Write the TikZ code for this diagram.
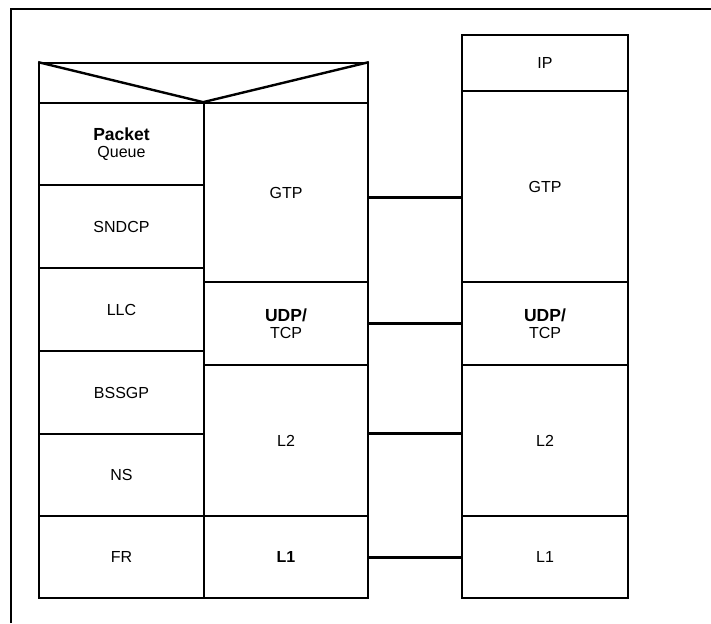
\documentclass[tikz,border=0pt]{standalone}
\usepackage{fontspec}
\setmainfont{Liberation Sans}
\begin{document}
\begin{tikzpicture}[x=1pt,y=-1pt,
  cell/.style={draw,line width=1.7pt,inner sep=0pt,align=center,
    font=\fontsize{16}{18}\selectfont},
  link/.style={line width=3pt}]
\useasboundingbox (0,0) rectangle (711,623);
\fill[white] (0,0) rectangle (711,623);
% frame
\draw[line width=2.8pt] (11,623) -- (11,9) -- (711,9);
% left stack, top bar
\node[cell,minimum width=329pt,minimum height=40pt] (bar) at (203.5,83) {};
% column A
\node[cell,minimum width=165pt,minimum height=82pt] (pq) at (121.5,144)
  {{\bfseries\fontsize{17.5}{19}\selectfont Packet}\\[-1pt]Queue};
\node[cell,minimum width=165pt,minimum height=83pt] (sndcp) at (121.5,226.5) {SNDCP};
\node[cell,minimum width=165pt,minimum height=83pt] (llc) at (121.5,309.5) {LLC};
\node[cell,minimum width=165pt,minimum height=83pt] (bssgp) at (121.5,392.5) {BSSGP};
\node[cell,minimum width=165pt,minimum height=82pt] (ns) at (121.5,475) {NS};
\node[cell,minimum width=165pt,minimum height=82pt] (fr) at (121.5,557) {FR};
% column B
\node[cell,minimum width=164pt,minimum height=179pt] (gtpB) at (286,192.5) {GTP};
\node[cell,minimum width=164pt,minimum height=83pt] (udpB) at (286,323.5)
  {{\bfseries\fontsize{17.5}{19}\selectfont UDP/}\\[-1pt]TCP};
\node[cell,minimum width=164pt,minimum height=151pt] (ltwoB) at (286,440.5) {L2};
\node[cell,minimum width=164pt,minimum height=82pt] (loneB) at (286,557) {\bfseries L1};
% triangle in top bar
\draw[line width=2.4pt,line join=round] (bar.north west) -- (gtpB.north west) -- (bar.north east);
% right stack
\node[cell,minimum width=166pt,minimum height=56pt] (ipR) at (545,63) {IP};
\node[cell,minimum width=166pt,minimum height=191pt] (gtpR) at (545,186.5) {GTP};
\node[cell,minimum width=166pt,minimum height=83pt] (udpR) at (545,323.5)
  {{\bfseries\fontsize{17.5}{19}\selectfont UDP/}\\[-1pt]TCP};
\node[cell,minimum width=166pt,minimum height=151pt] (ltwoR) at (545,440.5) {L2};
\node[cell,minimum width=166pt,minimum height=82pt] (loneR) at (545,557) {L1};
% connectors
\draw[link] ([yshift=-4.5pt]gtpB.east) -- ([yshift=-4.5pt]gtpB.east -| gtpR.west);
\draw[link] (udpB.east) -- (udpB.east -| udpR.west);
\draw[link] ([yshift=7pt]ltwoB.east) -- ([yshift=7pt]ltwoB.east -| ltwoR.west);
\draw[link] (loneB.east) -- (loneB.east -| loneR.west);
\end{tikzpicture}
\end{document}
